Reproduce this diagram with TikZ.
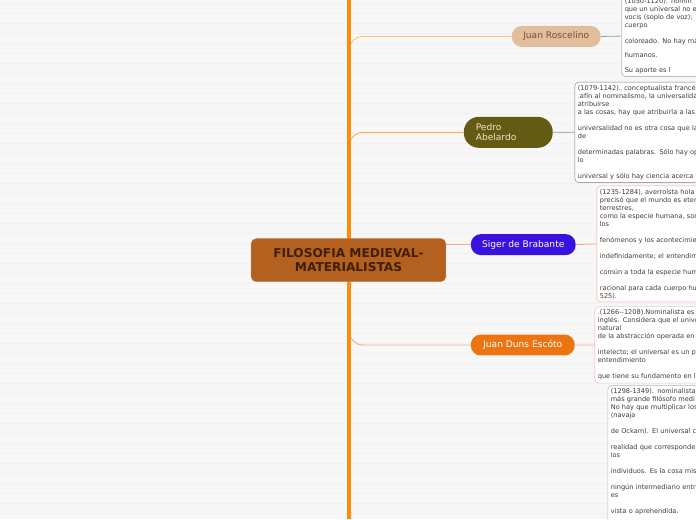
\documentclass[tikz,border=0pt]{standalone}
\usepackage{fontspec}
\setmainfont{DejaVu Sans}
\usepackage{xcolor}
\definecolor{PageGrey}{HTML}{F7F7F7}
\definecolor{RuleGrey}{HTML}{F1F1F1}
\definecolor{TrunkOrange}{HTML}{FD8C0A}
\definecolor{RootBrown}{HTML}{B4601F}
\definecolor{RootText}{HTML}{3F1F06}
\definecolor{TanFill}{HTML}{E3BE9C}
\definecolor{TanText}{HTML}{6E5038}
\definecolor{OliveFill}{HTML}{635A14}
\definecolor{OliveText}{HTML}{ECE6C0}
\definecolor{VioletFill}{HTML}{3A12E0}
\definecolor{EmberFill}{HTML}{EC7512}
\definecolor{LightOrange}{HTML}{FFC77E}
\definecolor{Salmon}{HTML}{F4AA92}
\definecolor{NoteGrey}{HTML}{9A9A9A}
\definecolor{NoteText}{HTML}{3C3C3C}
\usepackage{tikz}
\usetikzlibrary{positioning}

\tikzset{
  topicnode/.style={rounded corners=10pt, minimum height=21pt, inner xsep=10pt, font=\fontsize{9.1}{10.5}\selectfont},
  notebox/.style={draw, fill=white, rounded corners=4pt, text width=150pt, align=left, inner sep=3pt, text=NoteText, font=\fontsize{6.6}{8}\selectfont},
  branchline/.style={line width=0.9pt, rounded corners=14pt},
}

\begin{document}
\begin{tikzpicture}[x=1pt,y=-1pt]
  \fill[PageGrey] (0,0) rectangle (696,520);
  \foreach \ly in {4,14,...,514}
    \draw[RuleGrey, line width=1pt] (0,\ly) -- (696,\ly);
  \useasboundingbox (0,0) rectangle (696,520);
  \clip (0,0) rectangle (696,520);

  \node[topicnode, fill=TanFill, text=TanText, minimum width=89pt] (roscelino) at (556.5,36.5) {Juan Roscelino};
  \node[topicnode, fill=OliveFill, text=OliveText, minimum height=31pt, rounded corners=15pt, inner xsep=12pt, text width=65pt, align=left] (abelardo) at (508.5,132.5) {Pedro\\Abelardo};
  \node[topicnode, fill=VioletFill, text=white, minimum width=105pt] (siger) at (523.5,245) {Siger de Brabante};
  \node[topicnode, fill=EmberFill, text=white, minimum width=104pt] (duns) at (523,345.5) {Juan Duns Escóto};

  \node[notebox, draw=NoteGrey, anchor=south west] (rosnote) at (622,77) {(1050-1120). nomin\\que un universal no e\\vocis (soplo de voz);\\cuerpo\\[8pt]coloreado. No hay má\\[6pt]humanos.\\[7pt]Su aporte es l};
  \node[notebox, draw=NoteGrey!80!black, anchor=north west] (abenote) at (575,82) {(1079-1142). conceptualista francés\\.afín al nominalismo, la universalidad\\atribuirse\\a las cosas, hay que atribuirla a las\\[8pt]universalidad no es otra cosa que la\\de\\[8pt]determinadas palabras. Sólo hay op\\lo\\[8pt]universal y sólo hay ciencia acerca d};
  \node[notebox, draw=Salmon, anchor=north west] (sigernote) at (597,186) {(1235-1284), averroísta hola\\precisó que el mundo es eter\\terrestres,\\como la especie humana, son\\los\\[8pt]fenómenos y los acontecimie\\[8pt]indefinidamente; el entendim\\[8pt]común a toda la especie hum\\[8pt]racional para cada cuerpo hu\\525).};
  \node[notebox, draw=Salmon, anchor=north west] (dunsnote) at (595,307) {.(1266-{}-1208).Nominalista es\\inglés. Considera que el unive\\natural\\de la abstracción operada en\\[8pt]intelecto; el universal es un p\\entendimiento\\[8pt]que tiene su fundamento en l};
  \node[notebox, draw=NoteGrey!70, anchor=north west] (ockhamnote) at (608,386) {(1298-1349). nominalista\\más grande filósofo medi\\No hay que multiplicar los\\(navaja\\[8pt]de Ockam). El universal c\\[8pt]realidad que corresponde\\los\\[8pt]individuos. Es la cosa mis\\[8pt]ningún intermediario entr\\es\\[8pt]vista o aprehendida.\\ \mbox{}};

  \draw[NoteGrey, line width=0.8pt] (roscelino.east) -- (rosnote.west);
  \draw[NoteGrey, line width=0.8pt] (abelardo.east) -- (abenote.west);
  \draw[Salmon, line width=0.8pt] (siger.east) -- (sigernote.west);
  \draw[Salmon, line width=0.8pt] (duns.east) -- (dunsnote.west);

  \coordinate (trunkmid) at (349,260);
  \coordinate (trunktop) at (349,0);
  \coordinate (trunkbottom) at (349,520);
  \coordinate (rootright) at (446,245);
  \draw[branchline, LightOrange] (trunkmid) |- (roscelino.west);
  \draw[branchline, LightOrange!70!orange] (trunkmid) |- (abelardo.west);
  \draw[branchline, Salmon] (trunkmid) |- (duns.west);
  \draw[Salmon, line width=0.9pt] (rootright) -- (siger.west);
  \draw[TrunkOrange, line width=5pt] (trunktop) -- (trunkbottom);

  \node[fill=RootBrown, draw=RootBrown!80!white, rounded corners=5pt, minimum width=195pt, minimum height=43pt, text=RootText, align=center, font=\bfseries\fontsize{12.2}{14.5}\selectfont] (root) at (348.5,260.5) {FILOSOFIA MEDIEVAL-\\MATERIALISTAS};
\end{tikzpicture}
\end{document}
